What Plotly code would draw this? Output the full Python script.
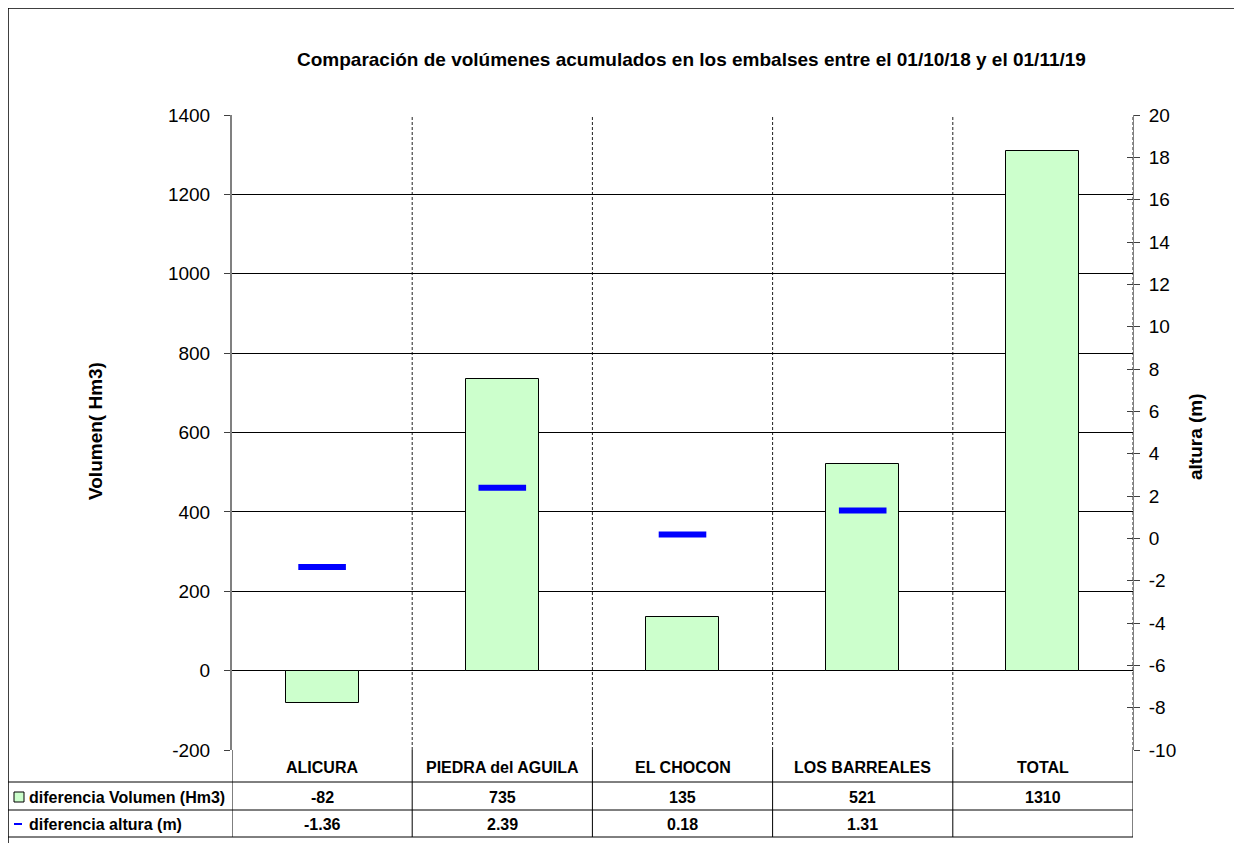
import plotly.graph_objects as go

categories = ["ALICURA", "PIEDRA del AGUILA", "EL CHOCON", "LOS BARREALES", "TOTAL"]
vol_diff = [-82, 735, 135, 521, 1310]
alt_diff = [-1.36, 2.39, 0.18, 1.31, None]
series_names = ["diferencia Volumen (Hm3)", "diferencia altura (m)"]
title_text = "Comparación de volúmenes acumulados en los embalses entre el 01/10/18 y el 01/11/19"
y1_ticks = [-200, 0, 200, 400, 600, 800, 1000, 1200, 1400]
y2_ticks = [-10, -8, -6, -4, -2, 0, 2, 4, 6, 8, 10, 12, 14, 16, 18, 20]

W, H = 1242, 843
OFF = 8  # page body margin
L, R, T, B = 232, 1133, 115, 750
PW, PH = R - L, B - T

def px(xp):
    return (xp - L) / PW

def py(yp):
    return (B - yp) / PH

FONT = "Liberation Sans, Arial, sans-serif"
xs = list(range(len(categories)))

fig = go.Figure()
fig.add_trace(go.Bar(x=xs, y=vol_diff, width=0.405, marker=dict(color="#CCFFCC", line=dict(color="black", width=1)),
                     name=series_names[0], yaxis="y"))
fig.add_trace(go.Scatter(x=xs, y=alt_diff, mode="markers", yaxis="y2", name=series_names[1],
                         marker=dict(symbol="line-ew", size=34, line=dict(color="#0000FF", width=6), color="#0000FF")))
fig.add_trace(go.Scatter(x=[None], y=[None], yaxis="y3", showlegend=False, hoverinfo="skip"))

shapes = []
for i in range(len(categories)):
    shapes.append(dict(type="line", xref="x", yref="paper", x0=i + 0.5, x1=i + 0.5, y0=0, y1=1,
                       line=dict(color="#202020", width=1, dash="3px,2px"), layer="below"))
row_y = [B, 782, 810, 837]
for yp in row_y[1:]:
    shapes.append(dict(type="line", xref="paper", yref="paper", x0=px(8), x1=1, y0=py(yp), y1=py(yp),
                       line=dict(color="black", width=1)))
for i in range(len(categories) + 1):
    xv = i - 0.5
    shapes.append(dict(type="line", xref="x", yref="paper", x0=xv, x1=xv, y0=0, y1=py(837),
                       line=dict(color="black", width=1)))
shapes.append(dict(type="line", xref="paper", yref="paper", x0=px(8), x1=px(8), y0=py(8), y1=py(H + 5),
                   line=dict(color="black", width=1.5)))
shapes.append(dict(type="line", xref="paper", yref="paper", x0=px(8), x1=px(W + 5), y0=py(8), y1=py(8),
                   line=dict(color="black", width=1.5)))
shapes.append(dict(type="rect", xref="paper", yref="paper", x0=px(14), x1=px(24), y0=py(802), y1=py(792),
                   fillcolor="#CCFFCC", line=dict(color="black", width=1)))
shapes.append(dict(type="line", xref="paper", yref="paper", x0=px(14), x1=px(22), y0=py(824), y1=py(824),
                   line=dict(color="#0000FF", width=2)))

annotations = []
tf = dict(family=FONT, size=16, color="black")
row_centers = [767, 797, 824]
for i, c in enumerate(categories):
    annotations.append(dict(x=i, y=py(row_centers[0]), xref="x", yref="paper", text="<b>%s</b>" % c,
                            showarrow=False, font=tf, xanchor="center", yanchor="middle"))
    annotations.append(dict(x=i, y=py(row_centers[1]), xref="x", yref="paper", text="<b>%d</b>" % vol_diff[i],
                            showarrow=False, font=tf, xanchor="center", yanchor="middle"))
    if alt_diff[i] is not None:
        annotations.append(dict(x=i, y=py(row_centers[2]), xref="x", yref="paper", text="<b>%.2f</b>" % alt_diff[i],
                                showarrow=False, font=tf, xanchor="center", yanchor="middle"))
annotations.append(dict(x=px(27), y=py(row_centers[1]), xref="paper", yref="paper", text="<b>%s</b>" % series_names[0],
                        showarrow=False, font=tf, xanchor="left", yanchor="middle"))
annotations.append(dict(x=px(27), y=py(row_centers[2]), xref="paper", yref="paper", text="<b>%s</b>" % series_names[1],
                        showarrow=False, font=tf, xanchor="left", yanchor="middle"))
annotations.append(dict(x=px(691), y=py(60), xref="paper", yref="paper", text="<b>%s</b>" % title_text,
                        showarrow=False, font=dict(family=FONT, size=19, color="black"), xanchor="center", yanchor="middle"))
annotations.append(dict(x=px(95), y=py(431), xref="paper", yref="paper", text="<b>Volumen( Hm3)</b>",
                        showarrow=False, font=dict(family=FONT, size=19, color="black"), textangle=-90,
                        xanchor="center", yanchor="middle"))
annotations.append(dict(x=px(1195), y=py(437), xref="paper", yref="paper", text="<b>altura (m)</b>",
                        showarrow=False, font=dict(family=FONT, size=19, color="black"), textangle=-90,
                        xanchor="center", yanchor="middle"))

tickfont = dict(family=FONT, size=19, color="black")
fig.update_layout(
    width=W, height=H,
    margin=dict(l=L - OFF, r=W - R + OFF, t=T - OFF, b=H - B + OFF, pad=0),
    paper_bgcolor="white", plot_bgcolor="white",
    showlegend=False,
    bargap=0,
    xaxis=dict(range=[-0.5, len(categories) - 0.5], showticklabels=False, ticks="", showgrid=False,
               zeroline=False, showline=False, fixedrange=True),
    yaxis=dict(range=[-200, 1400], tickvals=y1_ticks, ticktext=[str(v) for v in y1_ticks],
               showgrid=True, gridcolor="black", gridwidth=1,
               zeroline=False, showline=True, linecolor="#808080", linewidth=2,
               ticks="outside", ticklen=6, tickcolor="#404040", tickwidth=1,
               tickfont=tickfont, ticklabelstandoff=10),
    yaxis2=dict(range=[-10, 20], tickvals=y2_ticks, ticktext=[str(v) for v in y2_ticks],
                overlaying="y", side="right", showgrid=False,
                zeroline=False, showline=True, linecolor="#808080", linewidth=1,
                ticks="outside", ticklen=6, tickcolor="#404040", tickwidth=1,
                tickfont=tickfont, ticklabelstandoff=5),
    yaxis3=dict(range=[-10, 20], tickvals=y2_ticks, overlaying="y", side="right", showgrid=False,
                zeroline=False, showline=False, ticks="inside", ticklen=6, tickcolor="#404040",
                tickwidth=1, showticklabels=False),
    shapes=shapes,
    annotations=annotations,
)

fig.write_html("out.html")
